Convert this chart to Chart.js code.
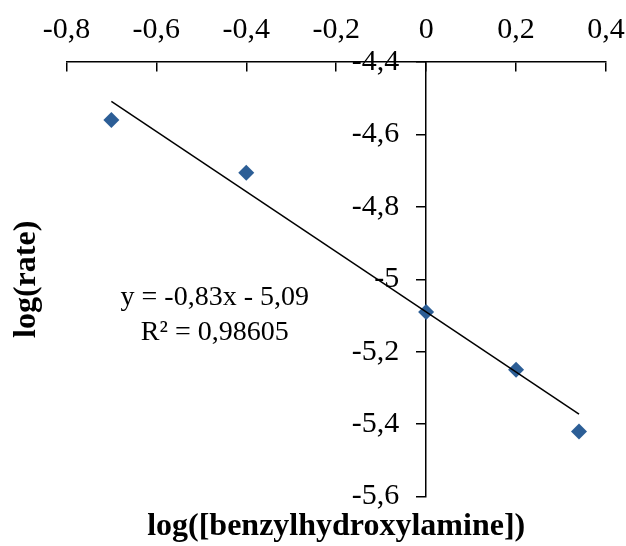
<!DOCTYPE html>
<html>
<head>
<meta charset="utf-8">
<script src="https://cdn.jsdelivr.net/npm/chart.js@4.4.0/dist/chart.umd.min.js"></script>
<style>
    html, body { margin: 0; padding: 0; background: #fff; }
    #wrap { width: 626px; height: 546px; position: relative; }
</style>
</head>
<body>
<div id="wrap"><canvas id="rateChart"></canvas></div>
<script>
// log([benzylhydroxylamine]) vs log(rate)
const logConc = [-0.70, -0.40, 0.00, 0.20, 0.34];
const logRate = [-4.56, -4.706, -5.09, -5.25, -5.42];

// linear trendline as reported on the chart
const slope = -0.83;
const intercept = -5.09;
const equationLines = ['y = -0,83x - 5,09', 'R² = 0,98605'];
const equationAt = [-0.47, -5.05];

const xRange = [-0.8, 0.4];
const yRange = [-5.6, -4.4];
const tickStep = 0.2;

const colors = {
    marker: '#2C5E96',
    ink: '#000000'
};

const serif = "'Liberation Serif', 'Times New Roman', serif";
const tickFont = '30px ' + serif;

const points = logConc.map((x, i) => ({ x: x, y: logRate[i] }));
const xMin = Math.min(...logConc);
const xMax = Math.max(...logConc);
const trend = [xMin, xMax].map(x => ({ x: x, y: slope * x + intercept }));

// decimal comma, like the source spreadsheet
const fmt = v => String(Number(v.toFixed(1))).replace('.', ',');

// y axis sits at x = 0, chart.js puts its labels on the line itself,
// so draw them here, left of the tick marks
const yAxisLabels = {
    id: 'yAxisLabels',
    afterDraw(chart) {
        const { ctx, scales: { x, y } } = chart;
        const ax = x.getPixelForValue(0) - y.options.grid.tickLength - 18;
        ctx.save();
        ctx.font = tickFont;
        ctx.fillStyle = colors.ink;
        ctx.textAlign = 'right';
        ctx.textBaseline = 'middle';
        y.ticks.forEach(t => ctx.fillText(fmt(t.value), ax, y.getPixelForValue(t.value)));
        ctx.restore();
    }
};

const trendLabel = {
    id: 'trendLabel',
    afterDatasetsDraw(chart) {
        const { ctx, scales: { x, y } } = chart;
        const px = x.getPixelForValue(equationAt[0]);
        const py = y.getPixelForValue(equationAt[1]);
        ctx.save();
        ctx.font = '28px ' + serif;
        ctx.fillStyle = colors.ink;
        ctx.textAlign = 'center';
        ctx.textBaseline = 'middle';
        equationLines.forEach((t, i) => ctx.fillText(t, px, py + i * 35));
        ctx.restore();
    }
};

new Chart(document.getElementById('rateChart'), {
    type: 'scatter',
    data: {
        datasets: [{
            data: points,
            pointStyle: 'rectRot',
            pointRadius: 8,
            backgroundColor: colors.marker,
            borderColor: colors.marker,
            borderWidth: 0,
            order: 2
        }, {
            type: 'line',
            data: trend,
            borderColor: colors.ink,
            borderWidth: 1.5,
            pointRadius: 0,
            fill: false,
            order: 1
        }]
    },
    options: {
        responsive: true,
        maintainAspectRatio: false,
        animation: false,
        layout: { padding: { top: 62, right: 20, bottom: 0, left: 0 } },
        plugins: {
            legend: { display: false },
            tooltip: { enabled: false },
            title: {
                display: true,
                position: 'bottom',
                fullSize: false,
                text: 'log([benzylhydroxylamine])',
                color: colors.ink,
                font: { family: serif, size: 32, weight: 'bold' },
                padding: { top: 11, bottom: 0 }
            },
            subtitle: {
                display: true,
                position: 'left',
                fullSize: false,
                text: 'log(rate)',
                color: colors.ink,
                font: { family: serif, size: 32, weight: 'bold' },
                padding: { top: 8, bottom: 20 }
            }
        },
        scales: {
            x: {
                type: 'linear',
                position: { y: yRange[1] },
                min: xRange[0],
                max: xRange[1],
                border: { display: true, color: colors.ink, width: 1.5 },
                grid: { drawOnChartArea: false, tickLength: 9, color: colors.ink, lineWidth: 1.5 },
                ticks: {
                    stepSize: tickStep,
                    padding: -59,
                    color: colors.ink,
                    font: { family: serif, size: 30 },
                    callback: v => fmt(v)
                }
            },
            y: {
                type: 'linear',
                position: { x: 0 },
                min: yRange[0],
                max: yRange[1],
                border: { display: true, color: colors.ink, width: 1.5 },
                grid: { drawOnChartArea: false, tickLength: 9, color: colors.ink, lineWidth: 1.5 },
                ticks: { stepSize: tickStep, display: false }
            }
        }
    },
    plugins: [trendLabel, yAxisLabels]
});
</script>
</body>
</html>
